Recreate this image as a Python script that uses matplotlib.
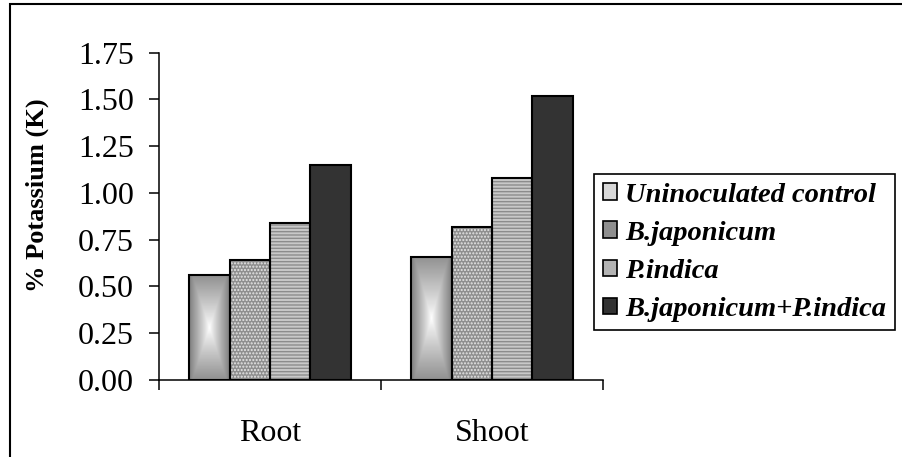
import numpy as np
import matplotlib
matplotlib.use('Agg')
import matplotlib.pyplot as plt
from matplotlib.patches import Patch, Rectangle

# Potassium content (%) per plant part and treatment
categories = ['Root', 'Shoot']
treatments = ['Uninoculated control', 'B.japonicum', 'P.indica', 'B.japonicum+P.indica']
control = [0.56, 0.66]
b_japonicum = [0.64, 0.82]
p_indica = [0.84, 1.08]
combined = [1.15, 1.52]
yticks = [0.0, 0.25, 0.5, 0.75, 1.0, 1.25, 1.5, 1.75]

plt.rcParams['font.family'] = ['Liberation Serif', 'DejaVu Serif']
plt.rcParams['hatch.linewidth'] = 1.0

fig = plt.figure(figsize=(9.02, 4.57), dpi=100)
ax = fig.add_axes([159 / 902, 1 - 380 / 457, (603 - 159) / 902, (380 - 52.7) / 457])

x = np.arange(len(categories))
width = 0.1824
series = [control, b_japonicum, p_indica, combined]


def gradient_fill(ax, x0, x1, h):
    # rectangular "from centre" gradient: white in the middle, grey at the edges
    nx, ny = 60, 120
    dx = np.abs(np.linspace(-1, 1, nx))[None, :]
    dy = np.abs(np.linspace(-1, 1, ny))[:, None]
    t = np.maximum(dx, dy * 0.85) ** 0.9
    img = 1.0 * (1 - t) + 0.5 * t
    ax.imshow(img, extent=(x0, x1, 0, h), aspect='auto', cmap='gray',
              vmin=0, vmax=1, zorder=2, interpolation='bilinear')


for i, vals in enumerate(series):
    pos = x + (i - 1.5) * width
    if i == 0:
        for p, v in zip(pos, vals):
            gradient_fill(ax, p - width / 2, p + width / 2, v)
        ax.bar(pos, vals, width, fill=False, edgecolor='black', linewidth=1.5, zorder=3)
    elif i == 1:
        ax.bar(pos, vals, width, color='#8e8e8e', hatch='.....', edgecolor='#e6e6e6',
               linewidth=0, zorder=2)
        ax.bar(pos, vals, width, fill=False, edgecolor='black', linewidth=1.5, zorder=3)
    elif i == 2:
        ax.bar(pos, vals, width, color='#c8c8c8', hatch='-----', edgecolor='#8c8c8c',
               linewidth=0, zorder=2)
        ax.bar(pos, vals, width, fill=False, edgecolor='black', linewidth=1.5, zorder=3)
    else:
        ax.bar(pos, vals, width, color='#333333', edgecolor='black', linewidth=1.5, zorder=3)

ax.set_xlim(-0.5, 1.5)
ax.set_ylim(0, 1.75)
ax.set_yticks(yticks)
ax.set_yticklabels([f'{v:.2f}' for v in yticks])
ax.set_xticks(x)
ax.set_xticklabels(categories)
ax.set_xticks([-0.5, 0.5, 1.5], minor=True)
ax.tick_params(axis='x', which='major', length=0, pad=28, labelsize=23)
ax.tick_params(axis='x', which='minor', length=7, width=1.1, direction='out')
ax.tick_params(axis='y', length=7, width=1.1, direction='out', pad=11, labelsize=23)

for side in ['top', 'right']:
    ax.spines[side].set_visible(False)
for side in ['left', 'bottom']:
    ax.spines[side].set_linewidth(1.1)

fig.text(37 / 902, 1 - 195 / 457, '% Potassium (K)', rotation=90, fontsize=19,
         fontweight='bold', ha='center', va='center')

handles = [
    Patch(facecolor='#d9d9d9', edgecolor='black', linewidth=1.2),
    Patch(facecolor='#8e8e8e', edgecolor='black', linewidth=1.2),
    Patch(facecolor='#b4b4b4', edgecolor='black', linewidth=1.2),
    Patch(facecolor='#333333', edgecolor='black', linewidth=1.2),
]
leg = fig.legend(handles, treatments, loc='upper left',
                 bbox_to_anchor=(594 / 902, 1 - 174 / 457), borderaxespad=0,
                 prop={'size': 20.5, 'weight': 'bold', 'style': 'italic'},
                 handlelength=0.5, handleheight=0.5, handletextpad=0.3,
                 labelspacing=0.46, borderpad=0.3, fancybox=False, framealpha=1)
leg.get_frame().set_edgecolor('black')
leg.get_frame().set_linewidth(1.2)

# outer chart border (top and left edges visible)
fig.patches.append(Rectangle((10 / 902, -0.5), 2, 1 - 4 / 457 + 0.5,
                             transform=fig.transFigure, fill=False,
                             edgecolor='black', linewidth=1.5))

fig.savefig('out.png', dpi=100)
